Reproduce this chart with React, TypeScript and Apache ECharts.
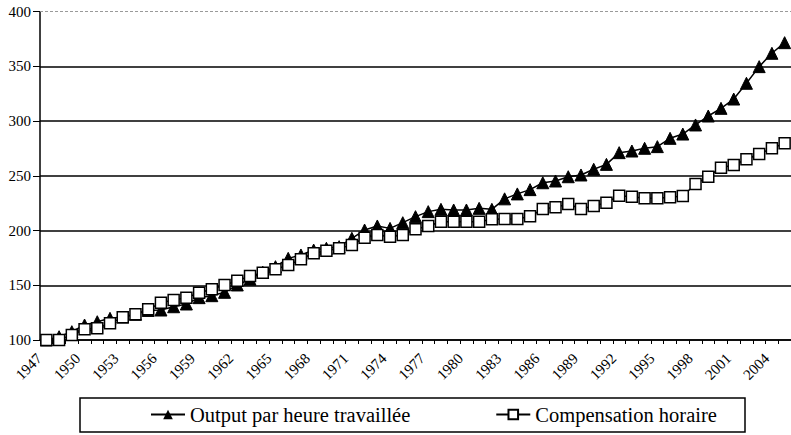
import React, { useEffect, useRef } from "react";
import * as echarts from "echarts";

const years = [
  "1947","1948","1949","1950","1951","1952","1953","1954","1955","1956",
  "1957","1958","1959","1960","1961","1962","1963","1964","1965","1966",
  "1967","1968","1969","1970","1971","1972","1973","1974","1975","1976",
  "1977","1978","1979","1980","1981","1982","1983","1984","1985","1986",
  "1987","1988","1989","1990","1991","1992","1993","1994","1995","1996",
  "1997","1998","1999","2000","2001","2002","2003","2004","2005",
];

const outputParHeure = [
  100, 103, 107.6, 113.7, 116.7, 119.8, 121, 123.5, 127, 127.4,
  130.4, 132.9, 138.7, 140.5, 143.6, 150.3, 155.5, 162, 167, 174.6,
  177.7, 182.2, 183.8, 185.3, 192.9, 200.5, 204.2, 202, 207.2, 212.7,
  217.3, 219.4, 218.8, 218.8, 220.3, 219.4, 229, 233.5, 237.4, 243.7,
  245.3, 249.2, 250.8, 256, 260.5, 271.2, 272.7, 275.2, 276.7, 284.3,
  288.2, 296.5, 304.7, 311.7, 320.2, 334.6, 349.8, 362, 371.7,
];

const compensationHoraire = [
  100, 100, 104.6, 109.8, 110.7, 115.2, 120.7, 123.5, 128, 134,
  136.6, 138.7, 143.2, 146.3, 150.3, 154.2, 158.5, 161.5, 164.6, 168.5,
  173.7, 179.2, 181.6, 183.8, 186.8, 193.5, 196, 194.4, 196, 201.2,
  204.2, 208.1, 208.1, 208, 208, 210.3, 210.5, 210.5, 213, 219.7,
  221.2, 224.3, 219.7, 222.4, 225.5, 231.9, 231, 229.5, 229.5, 230.4,
  231.6, 242.6, 249.2, 257.5, 259.9, 265.1, 270, 275.2, 279.7,
];

const seriesNames = ["Output par heure travaillée", "Compensation horaire"];

const FONT = "Liberation Serif";

export default function App() {
  const ref = useRef<HTMLDivElement>(null);
  useEffect(() => {
    if (!ref.current) return;
    const chart = echarts.init(ref.current, null, { renderer: "svg" });
    chart.setOption({
      animation: false,
      backgroundColor: "#ffffff",
      textStyle: { fontFamily: FONT },
      grid: [
        { left: 40, right: -2, top: 11.7, bottom: 95, containLabel: false },
        { left: 33, right: 5, top: 11.7, bottom: 95, containLabel: false },
      ],
      xAxis: [
        {
          type: "category",
          gridIndex: 0,
          data: years,
          boundaryGap: true,
          axisLine: { lineStyle: { color: "#000", width: 1.5 } },
          axisTick: { show: true, interval: 0, length: 4, lineStyle: { color: "#000", width: 1 } },
          axisLabel: { show: false },
          splitLine: { show: false },
        },
        {
          type: "category",
          gridIndex: 1,
          data: years,
          boundaryGap: true,
          axisLine: { show: false },
          axisTick: { show: false },
          axisLabel: {
            interval: 2,
            rotate: 45,
            margin: 16,
            color: "#000",
            fontFamily: FONT,
            fontSize: 15,
          },
          splitLine: { show: false },
        },
      ],
      yAxis: [
        {
          type: "value",
          gridIndex: 0,
          min: 100,
          max: 400,
          interval: 50,
          axisLine: { show: true, lineStyle: { color: "#000", width: 1.5 } },
          axisTick: { show: true, length: 7, lineStyle: { color: "#000", width: 1 } },
          axisLabel: { color: "#000", fontFamily: FONT, fontSize: 15, margin: 9 },
          splitLine: {
            show: true,
            lineStyle: {
              color: ["#000", "#000", "#000", "#000", "#000", "#000", "transparent"],
              width: 1.5,
            },
          },
        },
        {
          type: "value",
          gridIndex: 1,
          min: 100,
          max: 400,
          show: false,
        },
      ],
      legend: {
        data: seriesNames,
        left: 150,
        top: 404,
        padding: 0,
        itemGap: 85,
        itemWidth: 34,
        itemHeight: 12,
        textStyle: { color: "#000", fontFamily: FONT, fontSize: 20.5 },
      },
      graphic: [
        {
          type: "rect",
          shape: { x: 80, y: 398, width: 665, height: 34 },
          style: { fill: "none", stroke: "#000", lineWidth: 1.5 },
          silent: true,
        },
      ],
      series: [
        {
          name: seriesNames[0],
          type: "line",
          xAxisIndex: 0,
          yAxisIndex: 0,
          data: outputParHeure,
          symbol: "triangle",
          symbolSize: 12,
          showAllSymbol: true,
          itemStyle: { color: "#000", borderColor: "#000" },
          lineStyle: { color: "#000", width: 1.5 },
          z: 3,
          markLine: {
            silent: true,
            symbol: "none",
            label: { show: false },
            lineStyle: { color: "#9a9a9a", type: [3, 2], width: 1 },
            data: [{ yAxis: 400 }],
          },
        },
        {
          name: seriesNames[1],
          type: "line",
          xAxisIndex: 0,
          yAxisIndex: 0,
          data: compensationHoraire,
          symbol: "rect",
          symbolSize: 11,
          showAllSymbol: true,
          itemStyle: { color: "#fff", borderColor: "#000", borderWidth: 1.5 },
          lineStyle: { color: "#000", width: 1.5 },
          z: 4,
        },
      ],
    });
    return () => chart.dispose();
  }, []);
  return (
    <div
      ref={ref}
      style={{ position: "fixed", left: 0, top: 0, width: 791, height: 435 }}
    />
  );
}
